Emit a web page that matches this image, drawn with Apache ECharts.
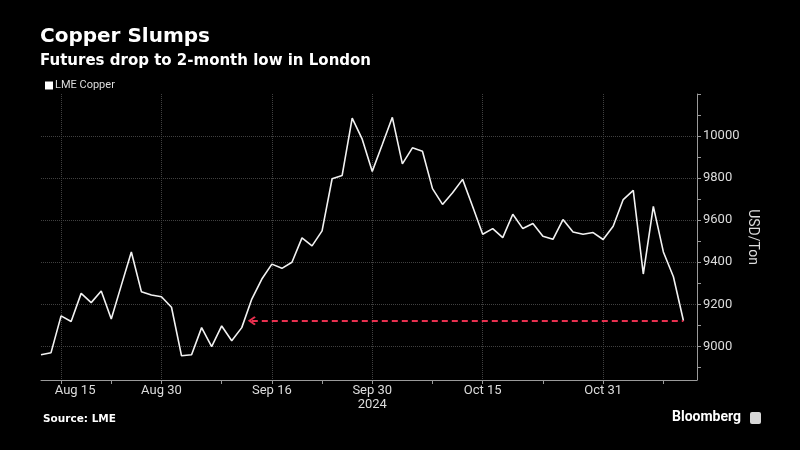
<!DOCTYPE html>
<html>
<head>
<meta charset="utf-8">
<script src="https://cdn.jsdelivr.net/npm/echarts@6/dist/echarts.min.js"></script>
<style>
html, body { margin: 0; background: #000; }
#chart { width: 800px; height: 450px; }
</style>
</head>
<body>
<div id="chart"></div>
<script>
// LME copper, daily closes (trading days only)
var dates = [
    'Aug 13', 'Aug 14', 'Aug 15', 'Aug 16', 'Aug 19', 'Aug 20', 'Aug 21', 'Aug 22', 'Aug 23',
    'Aug 27', 'Aug 28', 'Aug 29', 'Aug 30',
    'Sep 2', 'Sep 3', 'Sep 4', 'Sep 5', 'Sep 6', 'Sep 9', 'Sep 10', 'Sep 11', 'Sep 12', 'Sep 13',
    'Sep 16', 'Sep 17', 'Sep 18', 'Sep 19', 'Sep 20', 'Sep 23', 'Sep 24', 'Sep 25', 'Sep 26', 'Sep 27',
    'Sep 30', 'Oct 1', 'Oct 2', 'Oct 3', 'Oct 4', 'Oct 7', 'Oct 8', 'Oct 9', 'Oct 10', 'Oct 11',
    'Oct 14', 'Oct 15', 'Oct 16', 'Oct 17', 'Oct 18', 'Oct 21', 'Oct 22', 'Oct 23', 'Oct 24', 'Oct 25',
    'Oct 28', 'Oct 29', 'Oct 30', 'Oct 31', 'Nov 1', 'Nov 4', 'Nov 5', 'Nov 6', 'Nov 7', 'Nov 8',
    'Nov 11', 'Nov 12'
];
var prices = [
    8960, 8970, 9145, 9118, 9252, 9208, 9263, 9130, 9290,
    9449, 9260, 9244, 9236,
    9186, 8955, 8960, 9089, 8999, 9097, 9027, 9089, 9225, 9320,
    9391, 9371, 9400, 9516, 9478, 9549, 9797, 9813, 10085, 9985,
    9832, 9960, 10089, 9868, 9944, 9928, 9750, 9675, 9730, 9794,
    9665, 9533, 9560, 9517, 9628, 9560, 9584, 9524, 9509, 9603,
    9544, 9533, 9541, 9508, 9571, 9698, 9742, 9344, 9666, 9449,
    9331, 9122
];
var labelDates = ['Aug 15', 'Aug 30', 'Sep 16', 'Sep 30', 'Oct 15', 'Oct 31'];
var minorTickDates = ['Aug 22', 'Sep 9', 'Sep 23', 'Oct 8', 'Oct 23', 'Nov 8'];
var yearLabel = { date: 'Sep 30', text: '2024' };
var yLabels = [9000, 9200, 9400, 9600, 9800, 10000];
var yMinorTicks = [8900, 9100, 9300, 9500, 9700, 9900, 10100, 10200];
var arrowFrom = 'Sep 12';

var myChart = echarts.init(document.getElementById('chart'));

var majorIdx = labelDates.map(function (d) { return dates.indexOf(d); });
var minorIdx = minorTickDates.map(function (d) { return dates.indexOf(d); });
var seriesData = prices.map(function (v, i) { return [i, v]; });
var last = prices[prices.length - 1];

var axisColor = '#9a9a9a';
var gridColor = '#404040';
var labelColor = '#dcdcdc';
var xMin = 0;
var xMax = dates.length - 1 + 1.35;
var yMin = 8840;
var yMax = 10200;
var plotRect = { left: 41, right: 103, top: 94, bottom: 70, containLabel: false, outerBoundsMode: 'none' };

option = {
    backgroundColor: '#000',
    animation: false,
    title: {
        text: 'Copper Slumps',
        subtext: 'Futures drop to 2-month low in London',
        left: 35,
        top: 22,
        itemGap: 7,
        textStyle: { color: '#fff', fontSize: 20, fontWeight: 'bold', fontFamily: 'DejaVu Sans' },
        subtextStyle: { color: '#fff', fontSize: 15, fontWeight: 'bold', fontFamily: 'DejaVu Sans' }
    },
    legend: {
        left: 40,
        top: 75,
        icon: 'rect',
        itemWidth: 8,
        itemHeight: 8,
        textStyle: { color: labelColor, fontSize: 11, fontFamily: 'Roboto', padding: [0, 0, 0, -3] },
        data: [{ name: 'LME Copper', itemStyle: { color: '#fff' } }]
    },
    // second grid with the same rect only carries the minor ticks
    grid: [plotRect, plotRect],
    xAxis: [{
        type: 'value',
        gridIndex: 0,
        min: xMin,
        max: xMax,
        axisLine: { show: true, onZero: false, lineStyle: { color: axisColor, width: 1 } },
        axisTick: { show: true, customValues: majorIdx, length: 4, lineStyle: { color: axisColor } },
        axisLabel: {
            customValues: majorIdx,
            color: labelColor,
            fontSize: 13,
            fontFamily: 'Roboto',
            margin: 4,
            lineHeight: 14,
            formatter: function (v) {
                var d = dates[Math.round(v)];
                if (d === labelDates[0]) return '{first|' + d + '}';
                if (d === yearLabel.date) return d + '\n' + yearLabel.text;
                return d;
            },
            rich: {
                first: { color: labelColor, fontSize: 13, fontFamily: 'Roboto', padding: [0, 0, 0, 28] }
            }
        },
        splitLine: { show: true, lineStyle: { color: gridColor, type: 'dotted', width: 1 } }
    }, {
        type: 'value',
        gridIndex: 1,
        min: xMin,
        max: xMax,
        position: 'bottom',
        axisLine: { show: false, onZero: false },
        axisTick: { show: true, customValues: minorIdx, length: 4, lineStyle: { color: axisColor } },
        axisLabel: { show: false },
        splitLine: { show: false }
    }],
    yAxis: [{
        type: 'value',
        gridIndex: 0,
        position: 'right',
        min: yMin,
        max: yMax,
        name: 'USD/Ton',
        nameLocation: 'middle',
        nameRotate: -90,
        nameGap: 48,
        nameMoveOverlap: false,
        nameTextStyle: { color: labelColor, fontSize: 14, fontFamily: 'Roboto' },
        axisLine: { show: true, onZero: false, lineStyle: { color: axisColor, width: 1 } },
        axisTick: { show: true, customValues: yLabels, length: 4, lineStyle: { color: axisColor } },
        axisLabel: {
            customValues: yLabels,
            color: labelColor,
            fontSize: 13,
            fontFamily: 'Roboto',
            margin: 6,
            formatter: function (v) { return String(v); }
        },
        splitLine: { show: true, lineStyle: { color: gridColor, type: 'dotted', width: 1 } }
    }, {
        type: 'value',
        gridIndex: 1,
        position: 'right',
        min: yMin,
        max: yMax,
        axisLine: { show: false, onZero: false },
        axisTick: { show: true, customValues: yMinorTicks, length: 4, lineStyle: { color: axisColor } },
        axisLabel: { show: false },
        splitLine: { show: false }
    }],
    graphic: [
        {
            type: 'text', left: 43, top: 414,
            style: { text: 'Source: LME', fill: '#fff', font: 'bold 10.5px "DejaVu Sans"' }
        },
        {
            type: 'text', left: 672, top: 410,
            style: { text: 'Bloomberg', fill: '#fff', font: 'bold 14px Roboto' }
        },
        {
            type: 'rect', left: 750, top: 412,
            shape: { width: 11, height: 12, r: 2 },
            style: { fill: '#d8d8d8' }
        }
    ],
    series: [{
        name: 'LME Copper',
        type: 'line',
        xAxisIndex: 0,
        yAxisIndex: 0,
        data: seriesData,
        showSymbol: false,
        symbol: 'none',
        lineStyle: { color: '#f2f2f2', width: 1.6 },
        itemStyle: { color: '#fff' },
        markLine: {
            silent: true,
            symbol: ['path://M5,0 L10,6 L8.6,7.4 L5,3 L1.4,7.4 L0,6 Z', 'none'],
            symbolSize: [9, 8],
            label: { show: false },
            lineStyle: { color: '#e8304f', type: [6, 4], width: 2 },
            data: [[
                { coord: [dates.indexOf(arrowFrom), last] },
                { coord: [dates.length - 1, last] }
            ]]
        }
    }]
};

myChart.setOption(option);
</script>
</body>
</html>
